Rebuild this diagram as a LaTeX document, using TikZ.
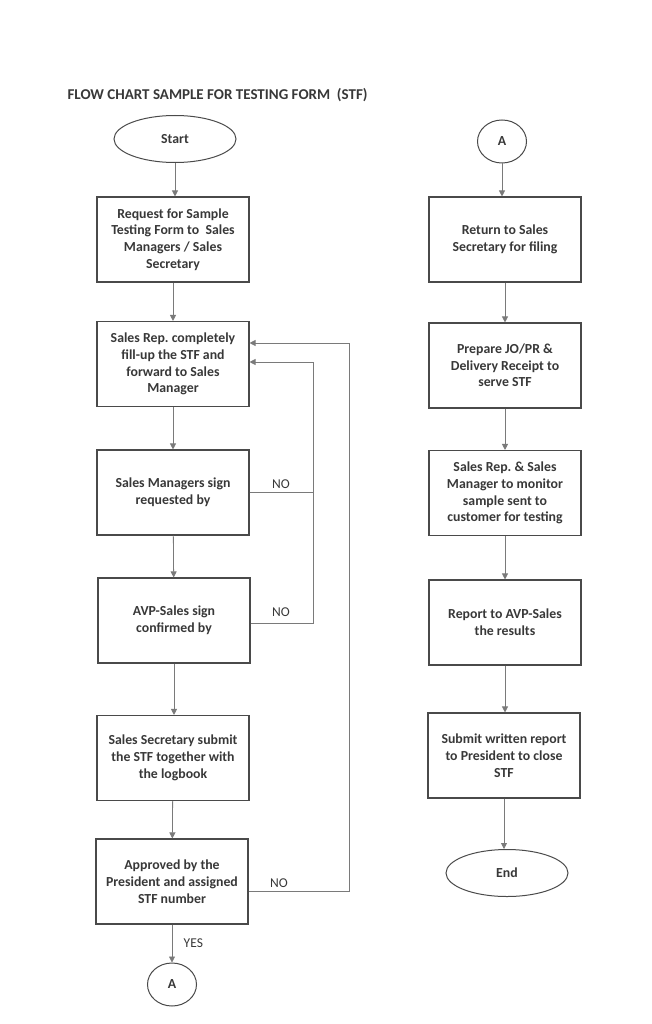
\documentclass[tikz,border=0pt]{standalone}
\usepackage{fontspec}
\setmainfont{Carlito}
\usetikzlibrary{shapes.geometric,arrows.meta}

\definecolor{boxgray}{HTML}{4A4A4A}
\definecolor{linegray}{HTML}{7A7A7A}
\definecolor{textgray}{HTML}{383838}

\newcommand{\boxfont}{\fontsize{13.8}{16.7}\selectfont\bfseries\frenchspacing}

\tikzset{
  stepbox/.style={draw=boxgray, line width=1.1pt, minimum width=152pt,
    minimum height=85pt, align=center, font=\boxfont, text=textgray},
  term/.style={ellipse, draw=boxgray, line width=1pt, minimum width=122pt,
    minimum height=47pt, font=\boxfont, text=textgray},
  conn/.style={ellipse, draw=boxgray, line width=1pt, minimum width=49pt,
    minimum height=43pt, inner sep=0pt, font=\boxfont, text=textgray},
  flow/.style={draw=linegray, line width=0.8pt, -{Triangle[length=6pt,width=6pt]}},
  loopline/.style={draw=linegray, line width=0.8pt},
  lbl/.style={font=\fontsize{13.5}{15}\selectfont, text=textgray}
}

\begin{document}
\begin{tikzpicture}[x=1pt,y=-1pt]
\useasboundingbox (0,0) rectangle (652,1024);

% title
\node [anchor=west, font=\fontsize{15}{18}\selectfont\bfseries, text=textgray]
  (title) at (64,95) {FLOW CHART SAMPLE FOR TESTING FORM~~(STF)};

% left column
\node [term] (start) at (175,139) {Start};
\node [stepbox] (req) at (173,239.5) {Request for Sample\\Testing Form to~~Sales\\Managers / Sales\\Secretary};
\node [stepbox] (fill) at (173,364) {Sales Rep. completely\\fill-up the STF and\\forward to Sales\\Manager};
\node [stepbox] (smsign) at (173,492.5) {Sales Managers sign\\requested by};
\node [stepbox] (avpsign) at (174,620.5) {AVP-Sales sign\\confirmed by};
\node [stepbox] (submit) at (173,758) {Sales Secretary submit\\the STF together with\\the logbook};
\node [stepbox] (approve) at (172,881.5) {Approved by the\\President and assigned\\STF number};
\node [conn] (conA) at (172,984.5) {A};

% right column
\node [conn] (conB) at (502,141.5) {A};
\node [stepbox] (ret) at (505,239.5) {Return to Sales\\Secretary for filing};
\node [stepbox] (prep) at (505,365.5) {Prepare JO/PR \&\\Delivery Receipt to\\serve STF};
\node [stepbox] (monitor) at (505,493) {Sales Rep. \& Sales\\Manager to monitor\\sample sent to\\customer for testing};
\node [stepbox] (report) at (505,622.5) {Report to AVP-Sales\\the results};
\node [stepbox] (close) at (504,755.5) {Submit written report\\to President to close\\STF};
\node [term] (finish) at (507,873) {End};

% main flow
\draw [flow] (start.south) -- (start.south |- req.north);
\draw [flow] (req) -- (fill);
\draw [flow] (fill) -- (smsign);
\draw [flow] (smsign) -- (avpsign);
\draw [flow] (avpsign.south) -- (avpsign.south |- submit.north);
\draw [flow] (submit) -- (approve);
\draw [flow] (approve) -- node [lbl, anchor=west, xshift=8pt] (yes) {YES} (conA);

\draw [flow] (conB.south) -- (conB.south |- ret.north);
\draw [flow] (ret) -- (prep);
\draw [flow] (prep) -- (monitor);
\draw [flow] (monitor) -- (report);
\draw [flow] (report.south) -- (report.south |- close.north);
\draw [flow] (close.south) -- (close.south |- finish.north);

% NO loops
\coordinate (inner) at (313,362);
\coordinate (outer) at (349,343);
\draw [flow] ([yshift=-2.5pt]avpsign.east) -| (inner) -- (fill.east |- inner);
\draw [loopline] (smsign.east) -- (smsign.east -| inner);
\draw [flow] ([yshift=-9.5pt]approve.east) -| (outer) -- (fill.east |- outer);

\node [lbl] (no1) at (281,484) {NO};
\node [lbl] (no2) at (281,612) {NO};
\node [lbl] (no3) at (279,883) {NO};

\end{tikzpicture}
\end{document}
